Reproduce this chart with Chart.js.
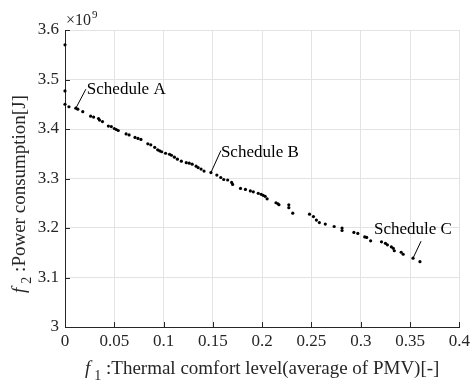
<!DOCTYPE html>
<html>
<head>
<meta charset="utf-8">
<script src="https://cdn.jsdelivr.net/npm/chart.js@4.4.1/dist/chart.umd.min.js"></script>
<style>
  html, body { margin: 0; padding: 0; background: #fff; }
  #wrap { width: 474px; height: 381px; }
</style>
</head>
<body>
<div id="wrap"><canvas id="c"></canvas></div>
<script>
// f1: thermal comfort level (average of PMV)
var comfort = [0, 0, 0, 0.004, 0.011, 0.013, 0.018, 0.026, 0.029, 0.034, 0.035, 0.038,
  0.044, 0.047, 0.050, 0.052, 0.054, 0.062, 0.065, 0.071, 0.074, 0.077, 0.084, 0.087,
  0.091, 0.094, 0.096, 0.098, 0.102, 0.106, 0.108, 0.111, 0.114, 0.118, 0.123, 0.126,
  0.129, 0.133, 0.135, 0.138, 0.141, 0.148, 0.154, 0.158, 0.161, 0.165, 0.169, 0.170,
  0.178, 0.183, 0.188, 0.191, 0.196, 0.199, 0.201, 0.203, 0.205, 0.214, 0.216, 0.217,
  0.227, 0.227, 0.231, 0.248, 0.252, 0.255, 0.258, 0.264, 0.273, 0.281, 0.281, 0.293,
  0.297, 0.304, 0.306, 0.310, 0.321, 0.325, 0.327, 0.331, 0.333, 0.334, 0.341, 0.343,
  0.353, 0.360];
// f2: power consumption, in units of 1e9 J
var power = [3.570, 3.477, 3.450, 3.445, 3.442, 3.440, 3.435, 3.426, 3.424, 3.421, 3.418, 3.415,
  3.406, 3.405, 3.401, 3.399, 3.397, 3.390, 3.388, 3.383, 3.381, 3.379, 3.370, 3.368,
  3.363, 3.358, 3.356, 3.354, 3.351, 3.349, 3.347, 3.343, 3.339, 3.335, 3.332, 3.331,
  3.329, 3.325, 3.322, 3.319, 3.315, 3.312, 3.307, 3.302, 3.298, 3.297, 3.292, 3.288,
  3.280, 3.278, 3.275, 3.273, 3.270, 3.268, 3.266, 3.264, 3.259, 3.251, 3.249, 3.247,
  3.247, 3.241, 3.230, 3.228, 3.223, 3.216, 3.211, 3.208, 3.203, 3.200, 3.195, 3.191,
  3.189, 3.182, 3.181, 3.174, 3.172, 3.169, 3.166, 3.162, 3.159, 3.154, 3.151, 3.147,
  3.139, 3.132];

var scheduleNames = ['Schedule A', 'Schedule B', 'Schedule C'];
var scheduleX = [0.011, 0.148, 0.353];
var scheduleY = [3.442, 3.312, 3.139];

var xTickStep = 0.05, xMin = 0, xMax = 0.4;
var yTickStep = 0.1, yMin = 3, yMax = 3.6;

var SERIF = '"Liberation Serif", "Times New Roman", serif';
var INK = '#262626';
Chart.defaults.font.family = SERIF;

var points = comfort.map(function (v, i) { return {x: v, y: power[i]}; });

// leader line offsets (px) from the point, then text offset from line end
var labelStyle = [
  {dx: 10, dy: -19, tx: 1, ty: 0},
  {dx: 10, dy: -22, tx: 0, ty: 2},
  {dx: 8, dy: -17, tx: -47, ty: -12}
];

function fmt(v) { return String(Number(v.toFixed(3))); }

var extras = {
  id: 'extras',
  afterDatasetsDraw: function (chart) {
    var ctx = chart.ctx;
    var xs = chart.scales.x, ys = chart.scales.y;
    var a = chart.chartArea;
    ctx.save();
    // inward ticks
    ctx.strokeStyle = INK;
    ctx.lineWidth = 1;
    ctx.beginPath();
    xs.ticks.forEach(function (t) {
      var px = Math.round(xs.getPixelForValue(t.value)) + 0.5;
      ctx.moveTo(px, a.bottom);
      ctx.lineTo(px, a.bottom - 5);
    });
    ys.ticks.forEach(function (t) {
      var py = Math.round(ys.getPixelForValue(t.value)) + 0.5;
      ctx.moveTo(a.left, py);
      ctx.lineTo(a.left + 5, py);
    });
    ctx.stroke();

    // schedule labels
    ctx.fillStyle = '#000';
    ctx.strokeStyle = '#000';
    ctx.font = '17px ' + SERIF;
    ctx.textBaseline = 'middle';
    scheduleNames.forEach(function (name, i) {
      var px = xs.getPixelForValue(scheduleX[i]);
      var py = ys.getPixelForValue(scheduleY[i]);
      var s = labelStyle[i];
      ctx.beginPath();
      ctx.moveTo(px, py);
      ctx.lineTo(px + s.dx, py + s.dy);
      ctx.stroke();
      ctx.textAlign = 'left';
      ctx.fillText(name, px + s.dx + s.tx, py + s.dy + s.ty);
    });

    // exponent
    ctx.fillStyle = INK;
    ctx.textBaseline = 'alphabetic';
    ctx.textAlign = 'left';
    ctx.font = '16px ' + SERIF;
    ctx.fillText('\u00d710', a.left + 1, 25);
    var w10 = ctx.measureText('\u00d710').width;
    ctx.font = '11px ' + SERIF;
    ctx.fillText('9', a.left + 2 + w10, 18);

    // x axis title
    var cx = (a.left + a.right) / 2;
    drawTitle(ctx, 'f', '1', ' :Thermal comfort level(average of PMV)[-]', cx, 374);
    // y axis title (rotated)
    ctx.save();
    ctx.translate(25, 194);
    ctx.rotate(-Math.PI / 2);
    drawTitle(ctx, 'f', '2', ' :Power consumption[J]', 0, 0);
    ctx.restore();
    ctx.restore();
  }
};

function drawTitle(ctx, f, sub, rest, cx, base) {
  ctx.fillStyle = INK;
  ctx.textAlign = 'left';
  ctx.textBaseline = 'alphabetic';
  ctx.font = 'italic 19px ' + SERIF;
  var wf = ctx.measureText(f).width;
  ctx.font = '14px ' + SERIF;
  var ws = ctx.measureText(sub).width;
  ctx.font = '19px ' + SERIF;
  var wr = ctx.measureText(rest).width;
  var x0 = cx - (wf + 4 + ws + wr) / 2;
  ctx.font = 'italic 19px ' + SERIF;
  ctx.fillText(f, x0, base);
  ctx.font = '14px ' + SERIF;
  ctx.fillText(sub, x0 + wf + 4, base + 6);
  ctx.font = '19px ' + SERIF;
  ctx.fillText(rest, x0 + wf + 4 + ws, base);
}

new Chart(document.getElementById('c'), {
  type: 'scatter',
  data: {
    datasets: [{
      data: points,
      clip: false,
      pointRadius: 1.6,
      pointBorderWidth: 0,
      pointBackgroundColor: '#000',
      pointHoverRadius: 1.6
    }]
  },
  options: {
    responsive: true,
    maintainAspectRatio: false,
    animation: false,
    events: [],
    layout: { padding: { top: 30, right: 12, left: 0, bottom: 0 } },
    plugins: { legend: { display: false }, tooltip: { enabled: false } },
    scales: {
      x: {
        type: 'linear', min: xMin, max: xMax,
        afterFit: function (s) { s.height = 54; },
        grid: { color: '#e3e3e3', drawTicks: false },
        border: { color: INK, width: 1 },
        ticks: { stepSize: xTickStep, padding: 4, color: INK, maxRotation: 0,
          font: { family: SERIF, size: 17 },
          callback: function (v) { return fmt(v); } }
      },
      y: {
        type: 'linear', min: yMin, max: yMax,
        afterFit: function (s) { s.width = 65; },
        grid: { color: '#e3e3e3', drawTicks: false },
        border: { color: INK, width: 1 },
        ticks: { stepSize: yTickStep, padding: 6, color: INK,
          font: { family: SERIF, size: 17 },
          callback: function (v) { return fmt(v); } }
      }
    }
  },
  plugins: [extras]
});
</script>
</body>
</html>
